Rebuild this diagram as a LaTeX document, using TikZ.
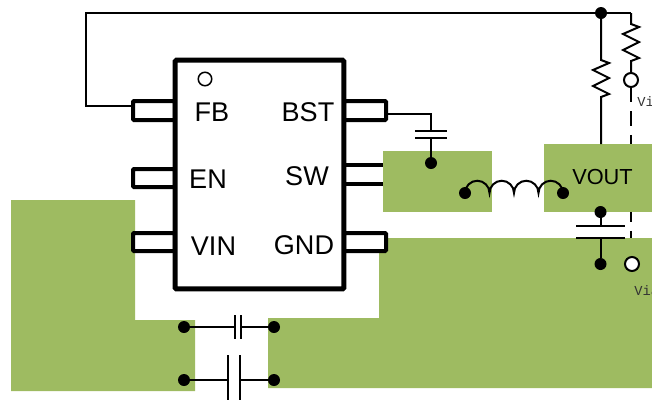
\documentclass[tikz,border=0pt]{standalone}
\usepackage{fontspec}
\setmainfont{Liberation Sans}
\newfontfamily\viafont{Liberation Mono}
\definecolor{padgreen}{RGB}{158,187,97}
\tikzset{
	wire/.style={line width=0.4mm},
	thickwire/.style={line width=0.8mm},
	pad/.style={fill=padgreen, draw=none, inner sep=0, outer sep=0},
	chipbox/.style={draw, line width=1mm, rounded corners=0.3mm, inner sep=0, outer sep=0, minimum width=3.38cm, minimum height=4.58cm},
	pinbox/.style={draw, line width=0.8mm, rounded corners=0.2mm, fill=white, inner sep=0, outer sep=0, minimum width=0.84cm, minimum height=0.38cm},
	dot/.style={circle, fill=black, inner sep=0, outer sep=0, minimum size=0.24cm},
	via/.style={circle, draw, line width=0.4mm, fill=white, inner sep=0, outer sep=0, minimum size=0.28cm},
	pinlabel/.style={font=\fontsize{15.4pt}{17pt}\selectfont, inner sep=0},
	vialabel/.style={font=\viafont\fontsize{7.8pt}{9pt}\selectfont, inner sep=0, anchor=west, text=black!80},
}
\begin{document}
\begin{tikzpicture}[x=0.02cm, y=-0.02cm]
	\useasboundingbox (0, 0) rectangle (652, 400);
	\clip (0, 0) rectangle (652, 400);
	% dashed wire goes under the copper
	\node [via] (viatop) at (631, 80) {};
	\coordinate (viawire) at (631, 264);
	\draw[wire, dash pattern=on 0.3cm off 0.18cm] (viatop.south) -- (viawire);
	% copper
	\fill[padgreen] (11, 200) -- (135, 200) -- (135, 320) -- (195, 320) -- (195, 391) -- (11, 391) -- cycle;
	\fill[padgreen] (379, 238) -- (652, 238) -- (652, 388) -- (268, 388) -- (268, 318) -- (379, 318) -- cycle;
	\node [pad, minimum width=2.18cm, minimum height=1.22cm] (swpad) at (437.5, 181.5) {};
	\node [pad, minimum width=2.16cm, minimum height=1.36cm] (voutpad) at (598, 178) {};
	% chip
	\node [pinbox] (pinfb) at (154, 110.5) {};
	\node [pinbox, minimum height=0.36cm] (pinen) at (154, 178) {};
	\node [pinbox, minimum height=0.36cm] (pinvin) at (154, 242) {};
	\node [pinbox] (pinbst) at (365, 110.5) {};
	\node [pinbox, minimum height=0.36cm] (pingnd) at (365, 242) {};
	\node [chipbox] (chip) at (259.5, 174.5) {};
	\draw[thickwire] (chip.east |- 0, 165) -- (swpad.west |- 0, 165);
	\draw[thickwire] (chip.east |- 0, 184) -- (swpad.west |- 0, 184);
	\node [circle, draw, line width=0.3mm, inner sep=0, minimum size=0.27cm] (pinone) at (205, 79) {};
	\node [pinlabel] (fb) at (212, 112) {FB};
	\node [pinlabel] (en) at (208, 179) {EN};
	\node [pinlabel] (vin) at (213.5, 246) {VIN};
	\node [pinlabel] (bst) at (308, 112) {BST};
	\node [pinlabel] (sw) at (307, 176) {SW};
	\node [pinlabel] (gnd) at (304, 245) {GND};
	\node [pinlabel, font=\fontsize{12.4pt}{15pt}\selectfont] (vout) at (602.5, 177) {VOUT};
	% feedback
	\node [dot] (top) at (601, 13) {};
	\coordinate (fbwire) at (133, 106);
	\coordinate (topright) at (631, 13);
	\draw[wire] (fbwire) -- (86, 106) -- (86, 13) -- (top.center) -- (topright);
	\draw[wire] (top.center) -- (601, 60) -- ++(8, 3) -- ++(-16, 7) -- ++(16, 8) -- ++(-16, 8) -- ++(16, 8) -- ++(-8, 3) -- (voutpad.north -| top);
	\draw[wire] (topright) -- (631, 24) -- ++(8, 3) -- ++(-16, 7) -- ++(16, 8) -- ++(-16, 8) -- ++(16, 8) -- ++(-8, 3) -- (viatop.north);
	\node [vialabel] (vialabela) at (637, 102) {Vi};
	% bootstrap capacitor
	\node [dot] (bstdot) at (431, 163) {};
	\coordinate (bstwire) at (386, 114);
	\coordinate (bstcapa) at (431, 131);
	\coordinate (bstcapb) at (431, 138);
	\draw[wire] (bstwire) -- (bstcapa |- bstwire) -- (bstcapa);
	\draw[wire] (bstcapb) -- (bstdot);
	\draw[wire] (415, 131) -- (447, 131);
	\draw[wire] (415, 138) -- (447, 138);
	% inductor
	\node [dot] (inda) at (465, 193) {};
	\node [dot] (indb) at (563, 193) {};
	\draw[wire] (inda.center) arc [start angle=180, end angle=360, radius=12.25] arc [start angle=180, end angle=360, radius=12.25] arc [start angle=180, end angle=360, radius=12.25] arc [start angle=180, end angle=360, radius=12.25];
	% output capacitor
	\node [dot] (outa) at (600.5, 212) {};
	\node [dot] (outb) at (600.5, 264) {};
	\draw[wire] (outa) -- (600.5, 226);
	\draw[wire] (600.5, 238) -- (outb);
	\draw[wire] (576, 226) -- (625, 226);
	\draw[wire] (576, 238) -- (625, 238);
	\node [via] (viabottom) at (632, 264) {};
	\node [vialabel] (vialabelb) at (634, 291) {Via};
	% input capacitors
	\node [dot] (cina) at (184, 327) {};
	\node [dot] (cinb) at (274, 327) {};
	\draw[wire] (cina) -- (235, 327);
	\draw[wire] (241, 327) -- (cinb);
	\draw[wire] (235, 315) -- (235, 339);
	\draw[wire] (241, 315) -- (241, 339);
	\node [dot] (cinc) at (184, 380) {};
	\node [dot] (cind) at (274, 380) {};
	\draw[wire] (cinc) -- (228, 380);
	\draw[wire] (240, 380) -- (cind);
	\draw[wire] (228, 355) -- (228, 400);
	\draw[wire] (240, 355) -- (240, 400);
\end{tikzpicture}
\end{document}
